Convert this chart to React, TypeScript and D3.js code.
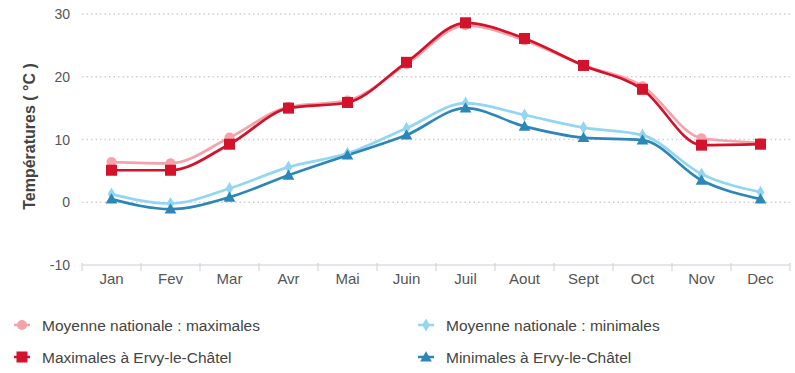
import React from "react";
import * as d3 from "d3";

const months = ["Jan", "Fev", "Mar", "Avr", "Mai", "Juin", "Juil", "Aout", "Sept", "Oct", "Nov", "Dec"];
const natMax = [6.4, 6.2, 10.3, 15.2, 16.2, 22.0, 28.2, 25.8, 21.8, 18.5, 10.2, 9.5];
const natMin = [1.3, -0.2, 2.2, 5.6, 7.8, 11.8, 15.8, 13.9, 11.9, 10.7, 4.5, 1.6];
const ervyMax = [5.1, 5.1, 9.25, 15.0, 15.9, 22.3, 28.6, 26.1, 21.8, 18.0, 9.1, 9.25];
const ervyMin = [0.5, -1.1, 0.8, 4.3, 7.5, 10.7, 15.0, 12.1, 10.3, 9.9, 3.5, 0.5];
const yTicks = [-10, 0, 10, 20, 30];

const W = 795, H = 373;
const left = 82, right = 790, top = 14, bottom = 265;
const FONT = "'Liberation Sans', Arial, sans-serif";

export default function App() {
  const x = d3.scaleBand<string>().domain(months).range([left, right]);
  const y = d3.scaleLinear().domain([-10, 30]).range([bottom, top]);
  const cx = (m: string) => (x(m) as number) + x.bandwidth() / 2;
  const line = d3.line<number>().x((_, i) => cx(months[i])).y((d) => y(d)).curve(d3.curveMonotoneX);

  const C = { natMax: "#f5a3ab", natMin: "#92d6f2", ervyMax: "#d3122b", ervyMin: "#2c87b8" };
  const tri = d3.symbol().type(d3.symbolTriangle).size(60)() as string;
  const dia = d3.symbol().type(d3.symbolDiamond).size(50)() as string;

  const marker = (kind: string, px: number, py: number, key: string) => {
    if (kind === "natMax") return <circle key={key} cx={px} cy={py} r={5} fill={C.natMax} />;
    if (kind === "natMin") return <path key={key} d={dia} transform={`translate(${px},${py})`} fill={C.natMin} />;
    if (kind === "ervyMax") return <rect key={key} x={px - 5.5} y={py - 5.5} width={11} height={11} fill={C.ervyMax} />;
    return <path key={key} d={tri} transform={`translate(${px},${py + 1})`} fill={C.ervyMin} />;
  };

  const series = [
    { k: "natMax", v: natMax },
    { k: "natMin", v: natMin },
    { k: "ervyMin", v: ervyMin },
    { k: "ervyMax", v: ervyMax },
  ];

  const legend = [
    { k: "natMax", label: "Moyenne nationale : maximales", lx: 14, ly: 325 },
    { k: "natMin", label: "Moyenne nationale : minimales", lx: 418, ly: 325 },
    { k: "ervyMax", label: "Maximales à Ervy-le-Châtel", lx: 14, ly: 357 },
    { k: "ervyMin", label: "Minimales à Ervy-le-Châtel", lx: 418, ly: 357 },
  ];

  return (
    <svg width={W} height={H} style={{ position: "absolute", left: 0, top: 0, background: "#fff" }} fontFamily={FONT}>
      {yTicks.filter((t) => t > -10).map((t) => (
        <line key={"g" + t} x1={left} x2={right} y1={y(t)} y2={y(t)} stroke="#cfcfcf" strokeWidth={1.5} strokeDasharray="1.5,3" />
      ))}
      <line x1={left} x2={right} y1={bottom} y2={bottom} stroke="#c8d0d8" strokeWidth={1} />
      {months.map((m) => (
        <line key={"t" + m} x1={x(m)} x2={x(m)} y1={bottom - 2} y2={bottom + 6} stroke="#c8d0d8" />
      ))}
      <line x1={right} x2={right} y1={bottom - 2} y2={bottom + 6} stroke="#c8d0d8" />
      {yTicks.map((t) => (
        <text key={"y" + t} x={70} y={y(t) + 5} textAnchor="end" fontSize={14} fill="#555">{t}</text>
      ))}
      {months.map((m) => (
        <text key={"x" + m} x={cx(m)} y={284} textAnchor="middle" fontSize={15} fill="#555">{m}</text>
      ))}
      <text transform={`translate(35,${(top + bottom) / 2 - 3}) rotate(-90)`} textAnchor="middle" fontSize={16} fontWeight="bold" fill="#444">
        Températures ( °C )
      </text>
      {series.map((s) => (
        <path key={"l" + s.k} d={line(s.v) as string} fill="none" stroke={(C as any)[s.k]} strokeWidth={2.7} />
      ))}
      {series.map((s) => s.v.map((v, i) => marker(s.k, cx(months[i]), y(v), s.k + i)))}
      {legend.map((l) => (
        <g key={"lg" + l.k}>
          <line x1={l.lx} x2={l.lx + 16} y1={l.ly} y2={l.ly} stroke={(C as any)[l.k]} strokeWidth={2.5} />
          {marker(l.k, l.lx + 8, l.ly, "lm" + l.k)}
          <text x={l.lx + 28} y={l.ly + 5.5} fontSize={15.5} fill="#444">{l.label}</text>
        </g>
      ))}
    </svg>
  );
}
